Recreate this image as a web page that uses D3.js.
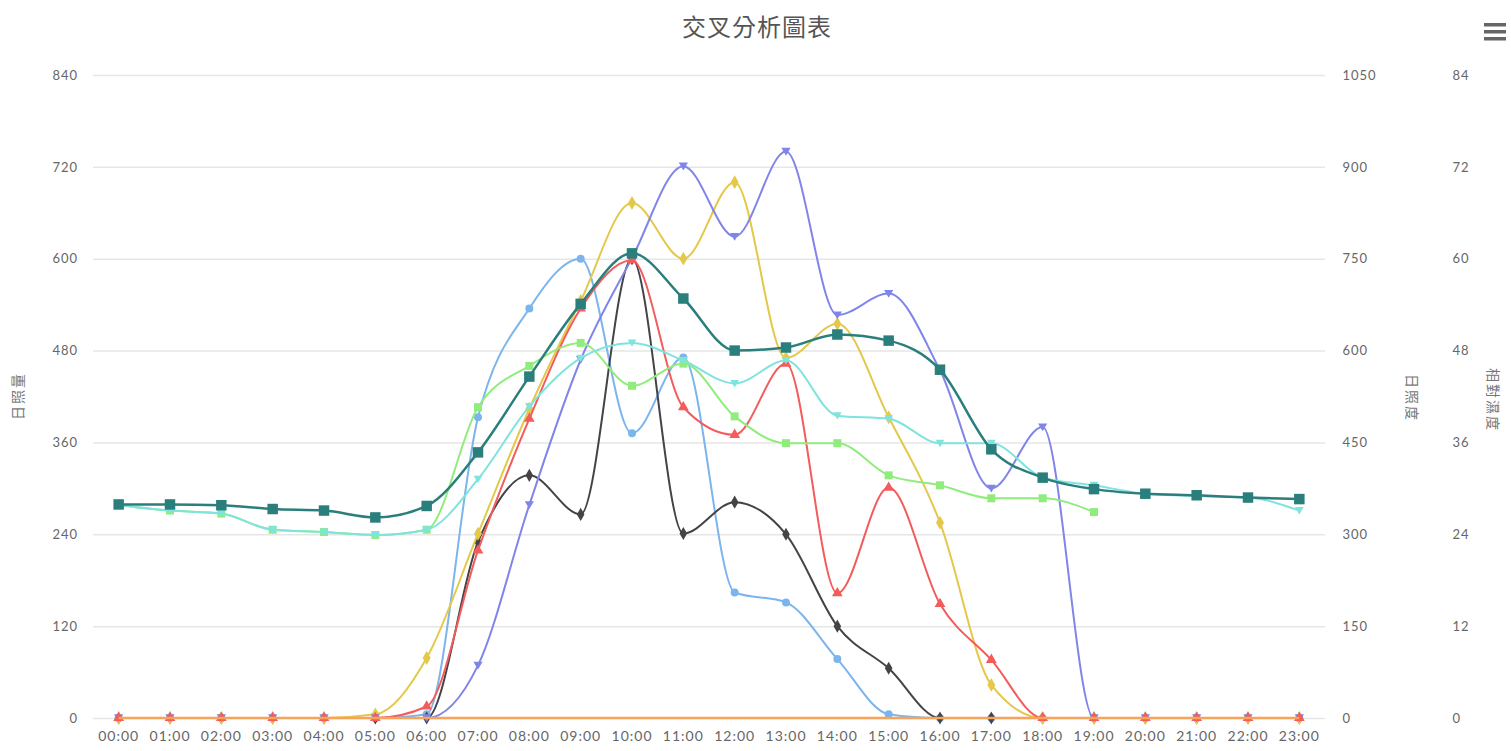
<!DOCTYPE html>
<html>
<head>
<meta charset="utf-8">
<script src="https://cdn.jsdelivr.net/npm/d3@7/dist/d3.min.js"></script>
<style>
  body { margin: 0; background: #fff; }
  text { font-family: "Lato", "Noto Sans CJK TC", sans-serif; }
</style>
</head>
<body>
<script>
// chart data
var hours = ["00:00","01:00","02:00","03:00","04:00","05:00","06:00","07:00","08:00","09:00","10:00","11:00",
             "12:00","13:00","14:00","15:00","16:00","17:00","18:00","19:00","20:00","21:00","22:00","23:00"];

var leftTicks = [0, 120, 240, 360, 480, 600, 720, 840];
var right1Ticks = [0, 150, 300, 450, 600, 750, 900, 1050];
var right2Ticks = [0, 12, 24, 36, 48, 60, 72, 84];

var titleText = "交叉分析圖表";
var leftTitle = "日照量";
var right1Title = "日照度";
var right2Title = "相對濕度";

// left axis series
var orangeVals = [0,0,0,0,0,0,0,0,0,0,0,0,0,0,0,0,0,0,0,0,0,0,0,0];
var blueVals   = [0,0,0,0,0,0,5,393,535,600,372,471,164,151,77,5,0,0,0,0,0,0,0,0];
var blackVals  = [0,0,0,0,0,0,0,230,317,266,600,241,282,240,120,65,0,0,0,0,0,0,0,0];
var redVals    = [0,0,0,0,0,0,15,219,391,535,598,406,370,463,163,301,149,76,0,0,0,0,0,0];
// right axis 1 series
var yellowVals = [0,0,0,0,0,6,98,301,505,681,841,750,875,588,644,491,319,54,0,0,0,0,0,0];
var purpleVals = [0,0,0,0,0,0,0,86,348,585,751,901,786,925,658,693,568,375,475,0,0,0,0,0];
// right axis 2 series
var greenVals  = [27.8,27.1,26.7,24.6,24.3,23.9,24.6,40.6,46.0,49.0,43.4,46.3,39.4,35.9,35.9,31.7,30.4,28.7,28.7,26.9,null,null,null,null];
var cyanVals   = [27.8,27.1,26.7,24.6,24.3,23.9,24.6,31.2,40.7,47.0,49.0,46.7,43.7,46.7,39.5,39.1,35.9,35.9,31.4,30.4,29.3,29.0,28.8,27.1];
var tealVals   = [27.9,27.9,27.8,27.3,27.1,26.2,27.7,34.7,44.6,54.1,60.7,54.8,48.0,48.4,50.1,49.3,45.5,35.1,31.4,29.9,29.3,29.1,28.8,28.6];

var W = 1511, H = 751;
var plotLeft = 93, plotRight = 1325, plotTop = 75, plotBottom = 718;

var svg = d3.select("body").append("svg")
    .attr("width", W)
    .attr("height", H);

var x = d3.scaleBand().domain(hours).range([plotLeft, plotRight]);
var yL = d3.scaleLinear().domain([0, 840]).range([plotBottom, plotTop]);
var yR1 = d3.scaleLinear().domain([0, 1050]).range([plotBottom, plotTop]);
var yR2 = d3.scaleLinear().domain([0, 84]).range([plotBottom, plotTop]);

// grid
svg.append("g").selectAll("line")
    .data(leftTicks)
    .enter().append("line")
    .attr("x1", plotLeft).attr("x2", plotRight)
    .attr("y1", function(d) { return yL(d) + 0.5; })
    .attr("y2", function(d) { return yL(d) + 0.5; })
    .attr("stroke", "#e6e6e6")
    .attr("stroke-width", 1.5);

// axes (labels only)
var axL = svg.append("g").attr("transform", "translate(" + (plotLeft - 12) + ",0)")
    .call(d3.axisLeft(yL).tickValues(leftTicks).tickSize(0).tickFormat(d3.format("d")));
var axR1 = svg.append("g").attr("transform", "translate(" + 1346 + ",0)")
    .call(d3.axisRight(yR1).tickValues(right1Ticks).tickSize(0).tickFormat(d3.format("d")));
var axR2 = svg.append("g").attr("transform", "translate(" + 1456 + ",0)")
    .call(d3.axisRight(yR2).tickValues(right2Ticks).tickSize(0).tickFormat(d3.format("d")));
var axX = svg.append("g").attr("transform", "translate(0," + (plotBottom + 8) + ")")
    .call(d3.axisBottom(x).tickSize(0));

[axL, axR1, axR2, axX].forEach(function(g) {
  g.select(".domain").remove();
  g.selectAll("text")
    .attr("fill", "#666")
    .attr("font-size", "13px")
    .attr("letter-spacing", "1px")
    .attr("font-family", "Lato, sans-serif");
});
axR1.selectAll("text").attr("dx", "-0.5em");
axR2.selectAll("text").attr("dx", "-0.5em");
axX.selectAll("text").attr("font-size", "14px").attr("dy", "0.85em");

// axis titles
function axisTitle(txt, tx, ty, rot) {
  svg.append("text")
    .attr("transform", "translate(" + tx + "," + ty + ") rotate(" + rot + ")")
    .attr("text-anchor", "middle")
    .attr("font-size", "14px")
    .attr("letter-spacing", "2px")
    .attr("fill", "#777")
    .attr("font-family", "Noto Sans CJK TC")
    .text(txt);
}
axisTitle(leftTitle, 23, 396, -90);
axisTitle(right1Title, 1407, 398, 90);
axisTitle(right2Title, 1488, 400, 90);

// chart title
svg.append("text")
  .attr("x", 757).attr("y", 36)
  .attr("text-anchor", "middle")
  .attr("font-size", "24px")
  .attr("letter-spacing", "1px")
  .attr("fill", "#555")
  .attr("font-family", "Noto Sans CJK TC")
  .text(titleText);

// menu icon
svg.append("g").selectAll("rect")
  .data([0, 1, 2])
  .enter().append("rect")
  .attr("x", 1484).attr("width", 22).attr("height", 3.5)
  .attr("y", function(d) { return 23 + d * 7; })
  .attr("fill", "#666");

var triDown = {
  draw: function(ctx, size) {
    var s = Math.sqrt(size) * 0.62;
    ctx.moveTo(-s, -s * 0.8); ctx.lineTo(s, -s * 0.8); ctx.lineTo(0, s * 0.9); ctx.closePath();
  }
};

var series = [
  { vals: blueVals,   y: yL,  color: "#7cb5ec", sym: d3.symbolCircle,   size: 50,  w: 2 },
  { vals: blackVals,  y: yL,  color: "#434348", sym: d3.symbolDiamond,  size: 50,  w: 2 },
  { vals: yellowVals, y: yR1, color: "#e4c84a", sym: d3.symbolDiamond,  size: 55,  w: 2 },
  { vals: purpleVals, y: yR1, color: "#8085e9", sym: triDown,           size: 55,  w: 2 },
  { vals: redVals,    y: yL,  color: "#f45b5b", sym: d3.symbolTriangle, size: 50,  w: 2 },
  { vals: orangeVals, y: yL,  color: "#f7a35c", sym: null,              size: 0,   w: 2.5 },
  { vals: greenVals,  y: yR2, color: "#90ed7d", sym: d3.symbolSquare,   size: 64,  w: 2 },
  { vals: cyanVals,   y: yR2, color: "#7fe3de", sym: triDown,           size: 50,  w: 2 },
  { vals: tealVals,   y: yR2, color: "#2a7f7c", sym: d3.symbolSquare,   size: 110, w: 2.5 }
];

series.forEach(function(s) {
  var pts = s.vals.map(function(v, i) { return { h: hours[i], v: v }; });
  var line = d3.line()
    .defined(function(d) { return d.v !== null; })
    .x(function(d) { return x(d.h) + x.bandwidth() / 2; })
    .y(function(d) { return s.y(d.v); })
    .curve(d3.curveMonotoneX);
  svg.append("path")
    .datum(pts)
    .attr("d", line)
    .attr("fill", "none")
    .attr("stroke", s.color)
    .attr("stroke-width", s.w);
  if (s.sym) {
    svg.append("g").selectAll("path")
      .data(pts.filter(function(d) { return d.v !== null; }))
      .enter().append("path")
      .attr("transform", function(d) {
        return "translate(" + (x(d.h) + x.bandwidth() / 2) + "," + s.y(d.v) + ")";
      })
      .attr("d", d3.symbol().type(s.sym).size(s.size))
      .attr("fill", s.color);
  }
});
</script>
</body>
</html>
